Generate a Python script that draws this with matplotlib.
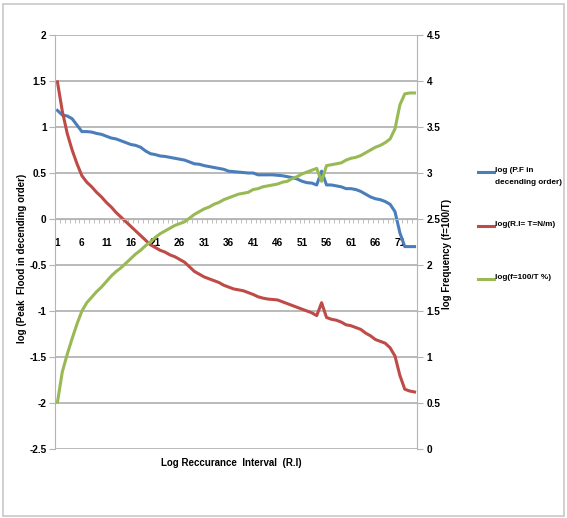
import matplotlib
matplotlib.use("Agg")
import matplotlib.pyplot as plt
from matplotlib.lines import Line2D
from matplotlib.patches import Rectangle
from matplotlib.ticker import FixedLocator, MultipleLocator

plt.rcParams['font.family'] = ['Liberation Sans', 'DejaVu Sans']
plt.rcParams['font.weight'] = 'bold'

# category numbers 1..74 on the x axis
ri = list(range(1, 75))

# log (P.F in decending order)  - left axis
peak_flood = [1.18, 1.13, 1.12, 1.09, 1.02, 0.95, 0.95, 0.945, 0.93, 0.92,
              0.90, 0.88, 0.87, 0.85, 0.83, 0.81, 0.80, 0.78, 0.74, 0.71,
              0.70, 0.685, 0.68, 0.67, 0.66, 0.65, 0.64, 0.62, 0.60, 0.595,
              0.58, 0.57, 0.56, 0.55, 0.54, 0.52, 0.515, 0.51, 0.505, 0.50,
              0.50, 0.48, 0.48, 0.48, 0.48, 0.475, 0.47, 0.46, 0.45, 0.435,
              0.41, 0.395, 0.39, 0.37, 0.52, 0.37, 0.37, 0.36, 0.35, 0.33,
              0.33, 0.32, 0.30, 0.27, 0.24, 0.22, 0.21, 0.19, 0.16, 0.08,
              -0.15, -0.30, -0.30, -0.30]

# log(R.I= T=N/m)  - left axis
recurrence = [1.49, 1.17, 0.93, 0.75, 0.60, 0.47, 0.40, 0.35, 0.29, 0.24,
              0.18, 0.13, 0.07, 0.02, -0.03, -0.08, -0.13, -0.18, -0.23, -0.28,
              -0.31, -0.34, -0.36, -0.39, -0.41, -0.44, -0.47, -0.52, -0.57, -0.60,
              -0.63, -0.65, -0.67, -0.69, -0.72, -0.74, -0.76, -0.77, -0.78, -0.80,
              -0.82, -0.845, -0.86, -0.87, -0.875, -0.88, -0.90, -0.92, -0.94, -0.96,
              -0.98, -1.00, -1.02, -1.05, -0.91, -1.07, -1.09, -1.10, -1.12, -1.15,
              -1.16, -1.18, -1.20, -1.24, -1.27, -1.31, -1.33, -1.35, -1.40, -1.49,
              -1.70, -1.85, -1.87, -1.88]

# log(f=100/T %)  - right axis
frequency = [0.51, 0.84, 1.03, 1.20, 1.36, 1.50, 1.59, 1.65, 1.71, 1.76,
             1.82, 1.88, 1.93, 1.97, 2.02, 2.07, 2.12, 2.16, 2.21, 2.25,
             2.30, 2.34, 2.37, 2.40, 2.43, 2.45, 2.47, 2.51, 2.55, 2.58,
             2.61, 2.63, 2.66, 2.68, 2.71, 2.73, 2.75, 2.77, 2.78, 2.79,
             2.82, 2.83, 2.85, 2.86, 2.87, 2.88, 2.90, 2.91, 2.94, 2.96,
             2.99, 3.01, 3.03, 3.05, 2.91, 3.08, 3.09, 3.10, 3.11, 3.14,
             3.16, 3.17, 3.19, 3.22, 3.25, 3.28, 3.30, 3.33, 3.37, 3.48,
             3.74, 3.86, 3.87, 3.87]

labels = ["log (P.F in\ndecending order)", "log(R.I= T=N/m)", "log(f=100/T %)"]
colors = ["#4A7EBB", "#BE4B48", "#98B954"]
grid_c = "#B4B4B4"

fig = plt.figure(figsize=(5.67, 5.18), dpi=100)
ax = fig.add_axes([55 / 567, 1 - 449 / 518, 362 / 567, 414 / 518])
ax2 = ax.twinx()

ax.plot(ri, peak_flood, color=colors[0], lw=2.2)
ax.plot(ri, recurrence, color=colors[1], lw=2.2)
ax2.plot(ri, frequency, color=colors[2], lw=2.2)

ax.set_xlim(0.5, 74.5)
ax.set_ylim(-2.5, 2)
ax2.set_ylim(0, 4.5)
ax.yaxis.set_major_locator(MultipleLocator(0.5))
ax2.yaxis.set_major_locator(MultipleLocator(0.5))
ax.yaxis.set_major_formatter(lambda v, p: f"{v:g}")
ax2.yaxis.set_major_formatter(lambda v, p: f"{v:g}")
ax.grid(axis='y', color=grid_c, lw=1.3)
ax.set_axisbelow(True)

# category axis crosses at 0
ax.spines['bottom'].set_position(('data', 0))
ax.spines['bottom'].set_color(grid_c)
ax.spines['left'].set_color(grid_c)
ax.spines['top'].set_visible(False)
ax.spines['right'].set_visible(False)
for s in ['top', 'bottom', 'left']:
    ax2.spines[s].set_visible(False)
ax2.spines['right'].set_color(grid_c)

ax.xaxis.set_major_locator(FixedLocator(ri[::5]))
ax.xaxis.set_minor_locator(FixedLocator([k + 0.5 for k in range(0, 75)]))
ax.tick_params(axis='x', which='major', length=0, pad=14, labelsize=7.2)
ax.tick_params(axis='x', which='minor', length=3, color=grid_c, direction='out')
ax.tick_params(axis='y', length=4, color=grid_c, labelsize=7.2, pad=2)
ax2.tick_params(axis='y', length=4, color=grid_c, labelsize=7.2, pad=3)

fig.text(22 / 567, 1 - 258 / 518, "log (Peak  Flood in decending order)",
         rotation=90, ha='center', va='center', fontsize=7)
fig.text(447 / 567, 1 - 254 / 518, "log Frequency (f=100/T)",
         rotation=90, ha='center', va='center', fontsize=7)
fig.text(231 / 567, 1 - 463 / 518, "Log Reccurance  Interval  (R.I)",
         ha='center', va='center', fontsize=7)

# legend drawn by hand, Excel style
leg_y = [172, 226, 279]
for lab, c, y in zip(labels, colors, leg_y):
    fy = 1 - y / 518
    fig.add_artist(Line2D([478 / 567, 494 / 567], [fy, fy], color=c, lw=2.2))
    fig.text(495 / 567, fy + 5 / 518, lab, ha='left', va='top', fontsize=5.9,
             linespacing=2.1)

fig.add_artist(Rectangle((3 / 567, 2 / 518), 561 / 567, 512 / 518, fill=False,
                         edgecolor="#C8C8C8", lw=1.2, transform=fig.transFigure))

fig.savefig("out.png", dpi=100)
